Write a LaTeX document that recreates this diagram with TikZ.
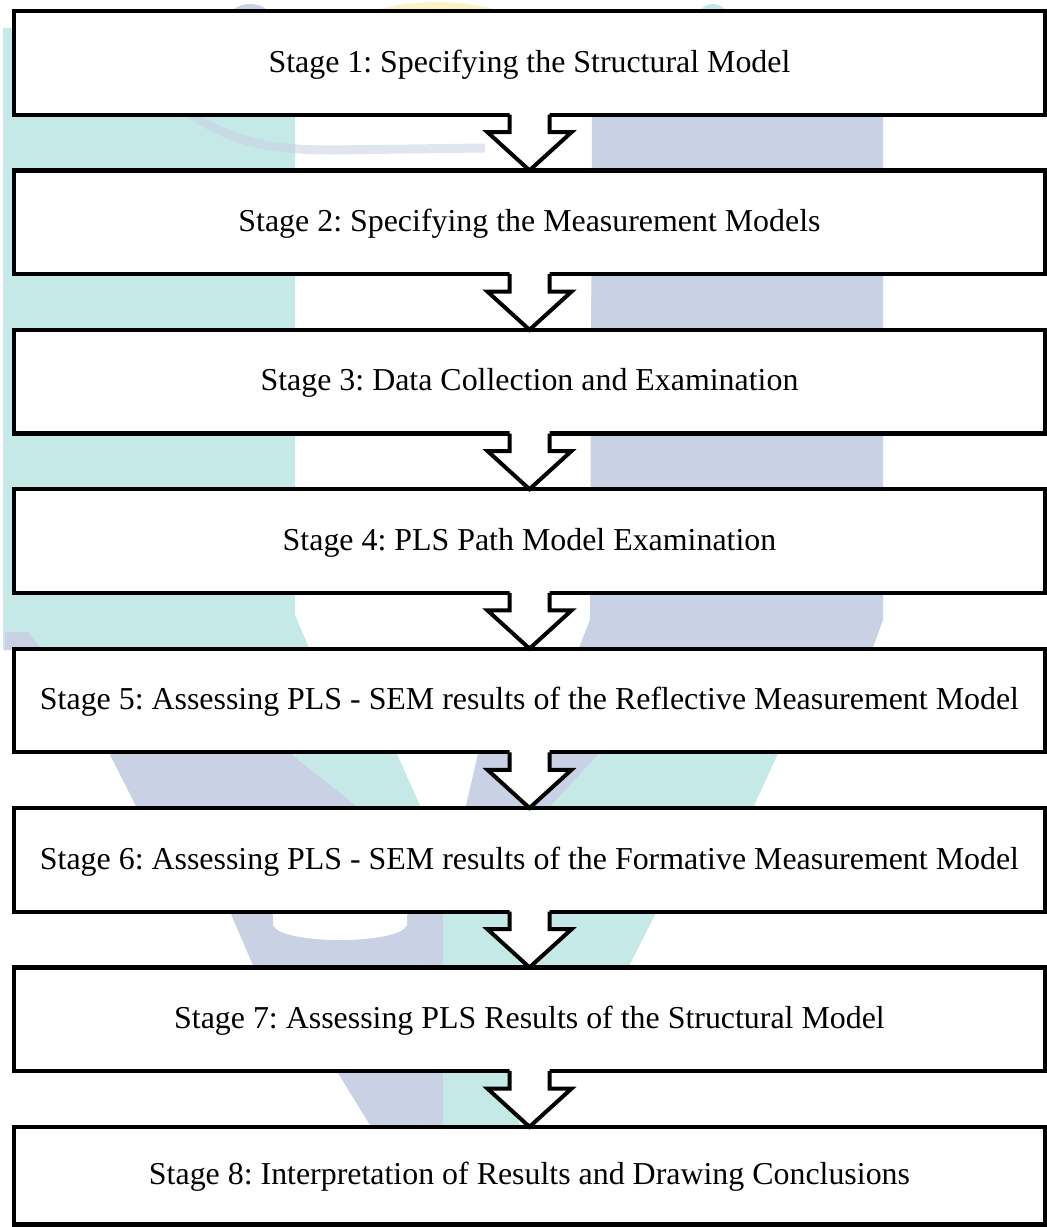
\documentclass[tikz,border=0pt]{standalone}
\usepackage{fontspec}
\setmainfont{Liberation Serif}
\usetikzlibrary{calc}

\definecolor{wmcyan}{RGB}{197,233,230}
\definecolor{wmlav}{RGB}{201,209,229}
\definecolor{wmyellow}{RGB}{252,242,196}

\newcommand\stagefont{\fontsize{31.9}{38}\selectfont\frenchspacing}

% hollow block arrow from the bottom of one stage box to the top of the next
\newcommand\stagearrow[2]{%
  \fill[white] ($(#1.south)+(-20,-3)$) -- ($(#1.south)+(-20,17.5)$) -- ($(#1.south)+(-42,17.5)$)
    -- (#2.north) -- ($(#1.south)+(42,17.5)$) -- ($(#1.south)+(20,17.5)$) -- ($(#1.south)+(20,-3)$) -- cycle;
  \draw[arrowline] ($(#1.south)+(-20,0)$) -- ($(#1.south)+(-20,17.5)$) -- ($(#1.south)+(-42,17.5)$)
    -- (#2.north) -- ($(#1.south)+(42,17.5)$) -- ($(#1.south)+(20,17.5)$) -- ($(#1.south)+(20,0)$);
}

\tikzset{
  stagebox/.style={draw, line width=4.2pt, fill=white, minimum width=1031pt,
    minimum height=103.7pt, inner sep=0pt, outer sep=0pt, font=\stagefont,
    text height=24.4pt, text depth=6pt},
  arrowline/.style={line width=4pt, line join=miter},
}

\begin{document}
\begin{tikzpicture}[x=1pt,y=-1pt]
\useasboundingbox (0,0) rectangle (1047,1227);
\fill[white] (0,0) rectangle (1047,1227);

% faint background logo
\begin{scope}
  \fill[wmyellow] (437,42) ellipse [x radius=100, y radius=40];
  \fill[wmlav] (250,20) ellipse [x radius=22, y radius=16];
  \fill[wmcyan] (713,20) ellipse [x radius=16, y radius=16];
  \fill[wmcyan] (3,28) -- (295,28) -- (295,615) -- (310,650) -- (3,650) -- cycle;
  \fill[wmlav] (5,632) -- (28,632) -- (42,650) -- (5,650) -- cycle;
  \fill[wmlav] (592,100) -- (883,100) -- (883,620) -- (872,650) -- (578,650) -- (590,620) -- cycle;
  \draw[wmlav, line width=9pt, opacity=0.55] (185,110) .. controls (230,142) and (270,150) .. (330,150) -- (485,148);
  % lower letters
  \fill[wmlav] (105,745) -- (280,745) -- (362,810) -- (138,810) -- cycle;
  \fill[wmcyan] (280,745) -- (393,745) -- (422,810) -- (362,810) -- cycle;
  \fill[wmlav] (480,745) -- (607,745) -- (547,810) -- (465,810) -- cycle;
  \fill[wmcyan] (607,745) -- (782,745) -- (752,810) -- (547,810) -- cycle;
  \fill[wmlav] (227,905) -- (443,905) -- (443,970) -- (255,970) -- cycle;
  \fill[white] (273,905) -- (273,925) .. controls (280,945) and (400,945) .. (407,925) -- (407,905) -- cycle;
  \fill[wmcyan] (443,905) -- (660,905) -- (627,970) -- (443,970) -- cycle;
  \fill[wmlav] (333,1065) -- (443,1065) -- (443,1130) -- (373,1130) -- cycle;
  \fill[wmcyan] (443,1065) -- (512,1065) -- (520,1130) -- (443,1130) -- cycle;
\end{scope}

% stage boxes
\node[stagebox] (s1) at (529.5,62.85)   {Stage 1: Specifying the Structural Model};
\node[stagebox] (s2) at (529.5,222.25)  {Stage 2: Specifying the Measurement Models};
\node[stagebox] (s3) at (529.5,381.65)  {Stage 3: Data Collection and Examination};
\node[stagebox] (s4) at (529.5,541.05)  {Stage 4: PLS Path Model Examination};
\node[stagebox] (s5) at (529.5,700.45)  {Stage 5: Assessing PLS - SEM results of the Reflective Measurement Model};
\node[stagebox] (s6) at (529.5,859.85)  {Stage 6: Assessing PLS - SEM results of the Formative Measurement Model};
\node[stagebox] (s7) at (529.5,1019.25) {Stage 7: Assessing PLS Results of the Structural Model};
\node[stagebox, minimum height=97.7pt] (s8) at (529.5,1175.65) {Stage 8: Interpretation of Results and Drawing Conclusions};

% connecting block arrows
\stagearrow{s1}{s2}
\stagearrow{s2}{s3}
\stagearrow{s3}{s4}
\stagearrow{s4}{s5}
\stagearrow{s5}{s6}
\stagearrow{s6}{s7}
\stagearrow{s7}{s8}
\end{tikzpicture}
\end{document}
